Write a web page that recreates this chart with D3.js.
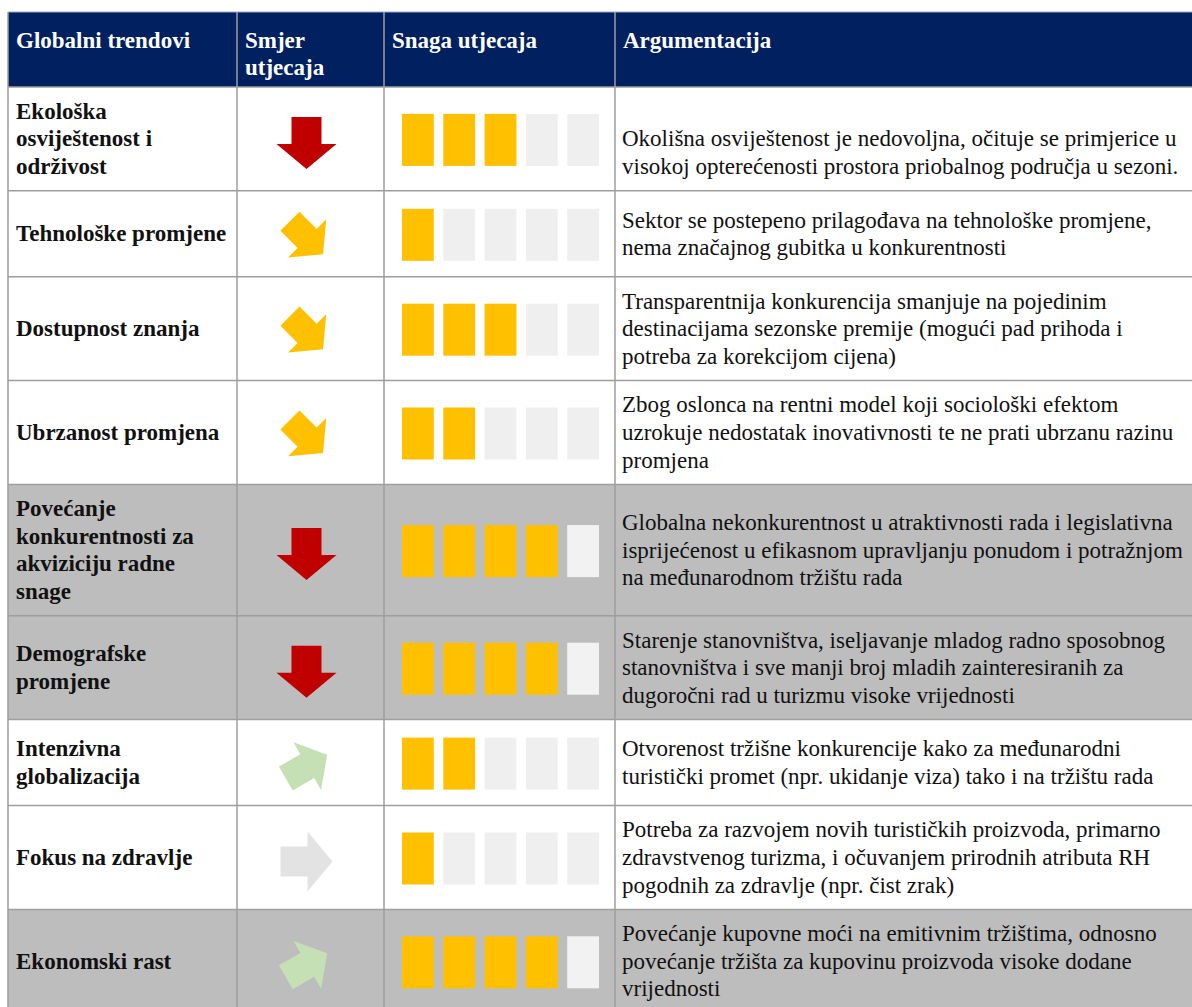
<!DOCTYPE html>
<html><head><meta charset="utf-8">
<script src="https://cdn.jsdelivr.net/npm/d3@7"></script>
<style>
html,body{margin:0;padding:0;background:#fff;}
svg{display:block;}
</style></head>
<body>
<script>
// ---------- DATA ----------
const headers = [["Globalni trendovi"], ["Smjer", "utjecaja"], ["Snaga utjecaja"], ["Argumentacija"]];
const trends = [
  ["Ekološka", "osviještenost i", "održivost"],
  ["Tehnološke promjene"],
  ["Dostupnost znanja"],
  ["Ubrzanost promjena"],
  ["Povećanje", "konkurentnosti za", "akviziciju radne", "snage"],
  ["Demografske", "promjene"],
  ["Intenzivna", "globalizacija"],
  ["Fokus na zdravlje"],
  ["Ekonomski rast"]
];
const directions = ["down", "downright", "downright", "downright", "down", "down", "upright", "right", "upright"];
const strength = [3, 1, 3, 2, 4, 4, 2, 1, 4];
const maxStrength = 5;
const shaded = [false, false, false, false, true, true, false, false, true];
const argumentsText = [
  ["", "Okolišna osviještenost je nedovoljna, očituje se primjerice u", "visokoj opterećenosti prostora priobalnog područja u sezoni."],
  ["Sektor se postepeno prilagođava na tehnološke promjene,", "nema značajnog gubitka u konkurentnosti"],
  ["Transparentnija konkurencija smanjuje na pojedinim", "destinacijama sezonske premije (mogući pad prihoda i", "potreba za korekcijom cijena)"],
  ["Zbog oslonca na rentni model koji sociološki efektom", "uzrokuje nedostatak inovativnosti te ne prati ubrzanu razinu", "promjena"],
  ["Globalna nekonkurentnost u atraktivnosti rada i legislativna", "isprijećenost u efikasnom upravljanju ponudom i potražnjom", "na međunarodnom tržištu rada"],
  ["Starenje stanovništva, iseljavanje mladog radno sposobnog", "stanovništva i sve manji broj mladih zainteresiranih za", "dugoročni rad u turizmu visoke vrijednosti"],
  ["Otvorenost tržišne konkurencije kako za međunarodni", "turistički promet (npr. ukidanje viza) tako i na tržištu rada"],
  ["Potreba za razvojem novih turističkih proizvoda, primarno", "zdravstvenog turizma, i očuvanjem prirodnih atributa RH", "pogodnih za zdravlje (npr. čist zrak)"],
  ["Povećanje kupovne moći na emitivnim tržištima, odnosno", "povećanje tržišta za kupovinu proizvoda visoke dodane", "vrijednosti"]
];

// ---------- LAYOUT ----------
const W = 1192, H = 1007;
const cols = [8, 237, 384, 615, 1200];
const headTop = 12, headBottom = 87;
const fontFam = "'Liberation Serif','Times New Roman',serif";
const fs = 23, lh = 27.6;
const arrowColor = {down: "#c00000", downright: "#ffc000", upright: "#c5e0b4", right: "#e3e3e3"};
const arrowAngle = {down: 90, downright: 45, upright: -30, right: 0};
const arrowScale = {down: 1, downright: 0.9, upright: 0.92, right: 1};

const svg = d3.select("body").append("svg").attr("width", W).attr("height", H)
  .style("font-family", fontFam);

// row geometry from text line counts
const nLines = trends.map((t, i) => Math.max(t.length, argumentsText[i].length));
const heights = nLines.map(n => Math.max(n * lh + 21, 86));
const tops = [];
heights.reduce((acc, h, i) => { tops[i] = acc; return acc + h; }, headBottom);

// header
svg.append("rect").attr("x", cols[0]).attr("y", headTop).attr("width", W - cols[0]).attr("height", headBottom - headTop)
  .attr("fill", "#002060");
headers.forEach((lines, c) => {
  const t = svg.append("text").attr("fill", "#fff").attr("font-weight", "bold").attr("font-size", fs);
  lines.forEach((ln, k) => t.append("tspan").attr("x", cols[c] + 8).attr("y", headTop + 36 + k * 27).text(ln));
});

// rows
const rows = svg.selectAll("g.row").data(trends).join("g").attr("class", "row");
rows.append("rect")
  .attr("x", cols[0]).attr("y", (d, i) => tops[i]).attr("width", W - cols[0]).attr("height", (d, i) => heights[i])
  .attr("fill", (d, i) => shaded[i] ? "#bdbdbd" : "#ffffff");

function multiline(sel, lines, x, cy, weight) {
  const t = sel.append("text").attr("font-size", fs).attr("font-weight", weight).attr("fill", "#111");
  lines.forEach((ln, k) => {
    t.append("tspan").attr("x", x).attr("y", cy + (k - (lines.length - 1) / 2) * lh + fs * 0.33).text(ln);
  });
}
rows.each(function(d, i) {
  const g = d3.select(this);
  const cy = tops[i] + heights[i] / 2;
  multiline(g, d, cols[0] + 8, cy, "bold");
  multiline(g, argumentsText[i], cols[3] + 7, cy, "normal");
});

// strength bars
const xb = d3.scaleBand().domain(d3.range(maxStrength)).range([402, 599]).paddingInner(0.23);
const barH = 52;
rows.each(function(d, i) {
  const cy = tops[i] + heights[i] / 2;
  d3.select(this).selectAll("rect.bar").data(d3.range(maxStrength)).join("rect").attr("class", "bar")
    .attr("x", k => xb(k)).attr("y", cy - barH / 2 + 1).attr("width", xb.bandwidth()).attr("height", barH)
    .attr("fill", k => k < strength[i] ? "#ffc000" : (shaded[i] ? "#f2f2f2" : "#efefef"));
});

// direction arrows (block arrow pointing right, rotated)
const arrowPts = [[-26, -15], [1, -15], [1, -30], [26, 0], [1, 30], [1, 15], [-26, 15]];
rows.each(function(d, i) {
  const cy = tops[i] + heights[i] / 2;
  const cx = (cols[1] + cols[2]) / 2 - 4;
  const dir = directions[i];
  d3.select(this).append("polygon")
    .attr("points", arrowPts.map(p => p.join(",")).join(" "))
    .attr("transform", `translate(${cx},${cy + 4}) rotate(${arrowAngle[dir]}) scale(${arrowScale[dir]})`)
    .attr("fill", arrowColor[dir]);
});

// grid lines
const grid = svg.append("g").attr("stroke", "#9e9e9e").attr("stroke-width", 1.5);
const hy = [headBottom].concat(tops.map((t, i) => t + heights[i]));
hy.forEach(y => grid.append("line").attr("x1", cols[0]).attr("x2", W).attr("y1", y).attr("y2", y));
cols.slice(0, 4).forEach(x => grid.append("line").attr("x1", x).attr("x2", x).attr("y1", headTop).attr("y2", H));
svg.append("line").attr("x1", cols[0]).attr("x2", W).attr("y1", headTop).attr("y2", headTop).attr("stroke", "#9ea8bf").attr("stroke-width", 1);
</script>
</body></html>
